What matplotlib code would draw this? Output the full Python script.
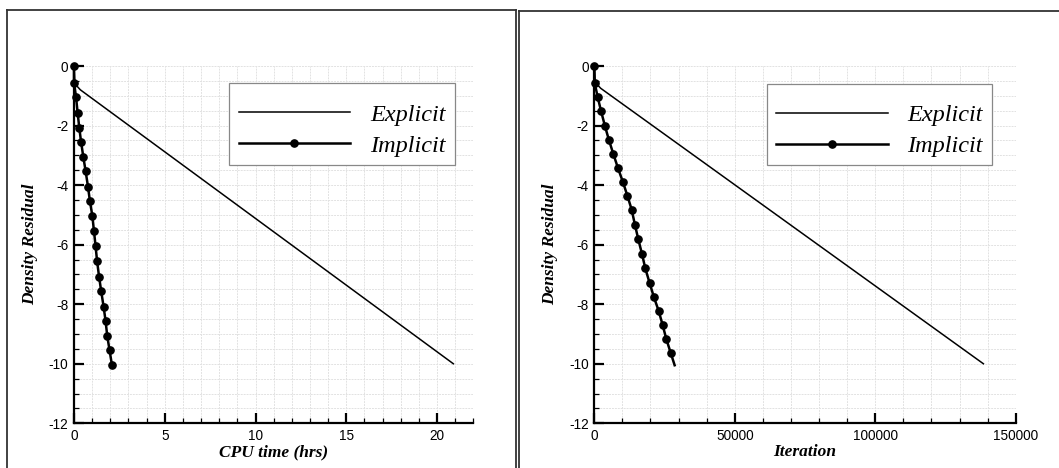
import numpy as np
import matplotlib
matplotlib.use("Agg")
import matplotlib.pyplot as plt
from matplotlib.ticker import MultipleLocator
from matplotlib.lines import Line2D
from matplotlib.patches import Rectangle

plt.rcParams["axes.unicode_minus"] = False
plt.rcParams["font.family"] = "Liberation Sans"

# CPU time panel (hrs)
cpu_exp = [0.0, 0.05, 0.35, 20.9]
res_exp_cpu = [0.0, -0.6, -0.8, -10.0]
cpu_imp = [0.0, 0.0, 0.11, 0.20, 0.29, 0.39, 0.51, 0.64, 0.77, 0.88, 1.01,
           1.10, 1.19, 1.27, 1.38, 1.50, 1.63, 1.74, 1.83, 1.96, 2.09]
res_imp_cpu = [0.0, -0.56, -1.03, -1.57, -2.07, -2.55, -3.04, -3.53, -4.05, -4.55, -5.03,
               -5.54, -6.06, -6.54, -7.07, -7.57, -8.08, -8.56, -9.06, -9.55, -10.04]

# Iteration panel
it_exp = [0, 300, 2300, 138500]
res_exp_it = [0.0, -0.55, -0.75, -10.0]
it_imp = [0, 120, 1190, 2370, 3800, 5220, 6760, 8430, 10200, 11750, 13290,
          14480, 15660, 16970, 18160, 19700, 21240, 22900, 24330, 25630, 27180, 28600]
res_imp_it = [0.0, -0.56, -1.04, -1.50, -2.02, -2.49, -2.95, -3.43, -3.90, -4.35, -4.82,
              -5.34, -5.82, -6.31, -6.80, -7.29, -7.77, -8.22, -8.70, -9.17, -9.63, -10.05]

W, H = 1059, 468
fig = plt.figure(figsize=(W/100, H/100), dpi=100)

serif_lab = dict(family="Liberation Serif", weight="bold", style="italic", fontsize=12.5)
fs_tick = 9.8

def style_axes(ax, xmax, xmaj, xmin, xlabel):
    ax.set_xlim(0, xmax)
    ax.set_ylim(-12, 0)
    ax.xaxis.set_major_locator(MultipleLocator(xmaj))
    ax.xaxis.set_minor_locator(MultipleLocator(xmin))
    ax.yaxis.set_major_locator(MultipleLocator(2))
    ax.yaxis.set_minor_locator(MultipleLocator(0.5))
    for s in ['top', 'right']:
        ax.spines[s].set_visible(False)
    for s in ['left', 'bottom']:
        ax.spines[s].set_linewidth(1.6)
    ax.tick_params(which='major', direction='in', length=7, width=1.6, labelsize=fs_tick, pad=4)
    ax.tick_params(which='minor', direction='in', length=3.5, width=0.9)
    ax.grid(which='both', color='#e2e2e2', linestyle=(0, (2, 1)), lw=0.7)
    ax.set_axisbelow(True)
    ax.set_xlabel(xlabel, labelpad=1, **serif_lab)
    ax.set_ylabel("Density Residual", labelpad=8, **serif_lab)

def add_lines(ax, xe, ye, xi, yi, nmark, box, anchor):
    ax.plot(xe, ye, color='black', lw=1.1, label='Explicit', clip_on=False, zorder=3)
    ax.plot(xi, yi, color='black', lw=1.8, marker='o', ms=5.2,
            markevery=list(range(nmark)), label='Implicit', clip_on=False, zorder=4)
    # legend frame drawn separately (content sits low in the box)
    ax.add_patch(Rectangle(box[:2], box[2], box[3], transform=ax.transAxes,
                           fc='white', ec='#888888', lw=0.9, zorder=5))
    leg = ax.legend(loc='center', bbox_to_anchor=anchor, borderaxespad=0,
                    prop=dict(family="Liberation Serif", style="italic", size=17.5),
                    handlelength=4.6, handletextpad=0.8, borderpad=0,
                    labelspacing=0.38, frameon=False)
    leg.set_zorder(6)

ax1 = fig.add_axes([74/W, 1-423.3/H, 399.3/W, 357.3/H])
style_axes(ax1, 22, 5, 1, "CPU time (hrs)")
add_lines(ax1, cpu_exp, res_exp_cpu, cpu_imp, res_imp_cpu, len(cpu_imp),
          (0.389, 0.723, 0.565, 0.229), (0.671, 0.820))

ax2 = fig.add_axes([594.3/W, 1-423.3/H, 421.4/W, 357.3/H])
style_axes(ax2, 150000, 50000, 10000, "Iteration")
add_lines(ax2, it_exp, res_exp_it, it_imp, res_imp_it, len(it_imp) - 1,
          (0.4105, 0.722, 0.534, 0.227), (0.676, 0.819))

# panel frames
def fline(x, y, lw=1.3):
    fig.add_artist(Line2D([v/W for v in x], [1-v/H for v in y], color='#333333',
                          lw=lw, transform=fig.transFigure))

fline([7, 7], [10, 470])
fline([7, 516], [10, 10])
fline([516, 516], [10, 470])
fline([518.5, 518.5], [11, 470])
fline([518.5, 1060], [11, 11])

fig.savefig("out.png", dpi=100)
